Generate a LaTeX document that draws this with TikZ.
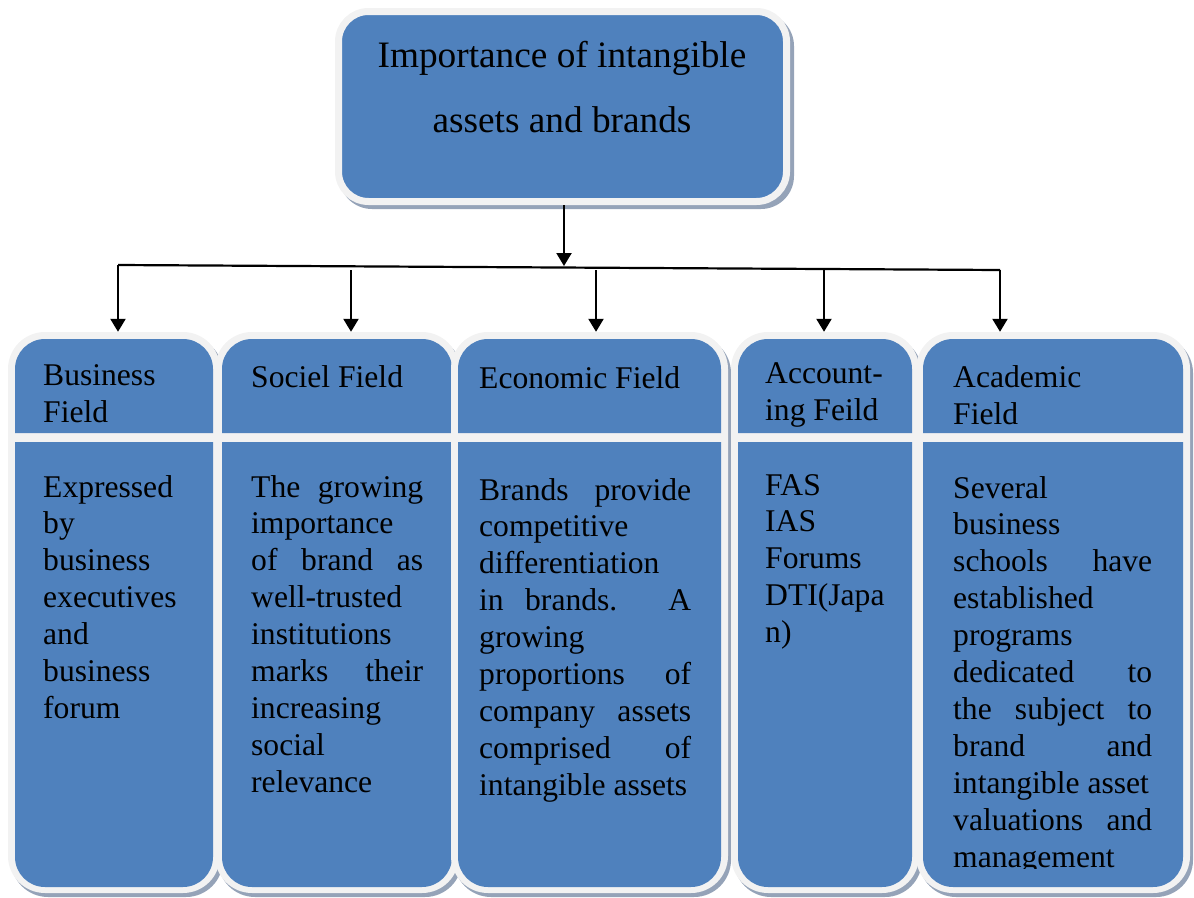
\documentclass[tikz,border=0pt]{standalone}
\usepackage{fontspec}
\setmainfont{Liberation Serif}
\usetikzlibrary{arrows.meta}
\definecolor{boxblue}{HTML}{4F81BD}
\definecolor{framec}{HTML}{F2F2F2}
\definecolor{shadec}{HTML}{95A3B8}
\tikzset{
  arr/.style={line width=2.2pt, -{Triangle[length=13pt,width=15pt]}},
  conn/.style={line width=2.2pt},
  txt/.style={anchor=base west, inner sep=0pt, align=left, font=\fontsize{31.6}{36.9}\selectfont},
  titletxt/.style={anchor=base, inner sep=0pt, align=center, font=\fontsize{37.3}{65}\selectfont},
  topbox/.style={draw=framec, line width=7pt, fill=boxblue, rounded corners=30pt, inner sep=0pt},
}
\newcommand\fieldcol[3]{%
  \fill[shadec, rounded corners=37pt] ({#1-4},336) rectangle ({#2+10},897);
  \fill[framec, rounded corners=37pt] ({#1-7},332) rectangle ({#2+7},893);
  \fill[boxblue] (#1,433) [rounded corners=30pt] -- (#1,339) -- (#2,339) [sharp corners] -- (#2,433) -- cycle;
  \fill[boxblue] (#2,442) -- (#1,442) [rounded corners=30pt] -- (#1,887) -- (#2,887) [sharp corners] -- cycle;
  \node[inner sep=0pt, minimum width={#2-#1+14}, minimum height=561] (#3) at ({(#1+#2)/2},612.5) {};
}
\begin{document}
\begin{tikzpicture}[x=1pt,y=-1pt]
\useasboundingbox (0,0) rectangle (1194,897);
% top box
\fill[shadec, rounded corners=33pt] (339,13) rectangle (794,209);
\node[topbox, minimum width=448pt, minimum height=190pt] (top) at (562.5,106.5) {};
\node[titletxt] (title) at (562,132) {Importance of intangible\\assets and brands};
% columns
\fieldcol{15}{213}{c1}
\fieldcol{222}{452}{c2}
\fieldcol{458}{721}{c3}
\fieldcol{738}{912}{c4}
\fieldcol{923}{1183}{c5}
% connectors
\coordinate (hub) at (564,266);
\coordinate (ax1) at (118,265);
\coordinate (ax2) at (351,270);
\coordinate (ax3) at (596,270);
\coordinate (ax4) at (824,269);
\coordinate (ax5) at (1000,270);
\draw[arr] (top.south -| hub) -- (hub);
\draw[conn] (ax1) -- (ax5);
\draw[arr] (ax1) -- (ax1 |- c1.north);
\draw[arr] (ax2) -- (ax2 |- c2.north);
\draw[arr] (ax3) -- (ax3 |- c3.north);
\draw[arr] (ax4) -- (ax4 |- c4.north);
\draw[arr] (ax5) -- (ax5 |- c5.north);
% headers (anchor = baseline of last line)
\node[txt] (h1) at (43,422) {Business\\Field};
\node[txt] (h2) at (251,387) {Sociel Field};
\node[txt] (h3) at (479,388) {Economic Field};
\node[txt] (h4) at (765,420) {Account-\\ing Feild};
\node[txt] (h5) at (953,424) {Academic\\Field};
% bodies
\node[txt] (b1) at (43,718.4) {Expressed\\by\\business\\executives\\and\\business\\forum};
\node[txt] (b2) at (251,792.2) {\makebox[172pt][s]{The growing}\\importance\\\makebox[172pt][s]{of brand as}\\well-trusted\\institutions\\\makebox[172pt][s]{marks their}\\increasing\\social\\relevance};
\node[txt] (b3) at (479,795.2) {\makebox[212pt][s]{Brands provide}\\competitive\\differentiation\\\makebox[212pt][s]{in brands. A}\\growing\\\makebox[212pt][s]{proportions of}\\\makebox[212pt][s]{company assets}\\\makebox[212pt][s]{comprised of}\\intangible assets};
\node[txt] (b4) at (765,642.6) {FAS\\IAS\\Forums\\DTI(Japa\\n)};
\begin{scope}
\clip (923,442) rectangle (1183,868);
\node[txt] (b5) at (953,867) {Several\\business\\\makebox[199pt][s]{schools have}\\established\\programs\\\makebox[199pt][s]{dedicated to}\\\makebox[199pt][s]{the subject to}\\\makebox[199pt][s]{brand and}\\intangible asset\\\makebox[199pt][s]{valuations and}\\management};
\end{scope}
\end{tikzpicture}
\end{document}
